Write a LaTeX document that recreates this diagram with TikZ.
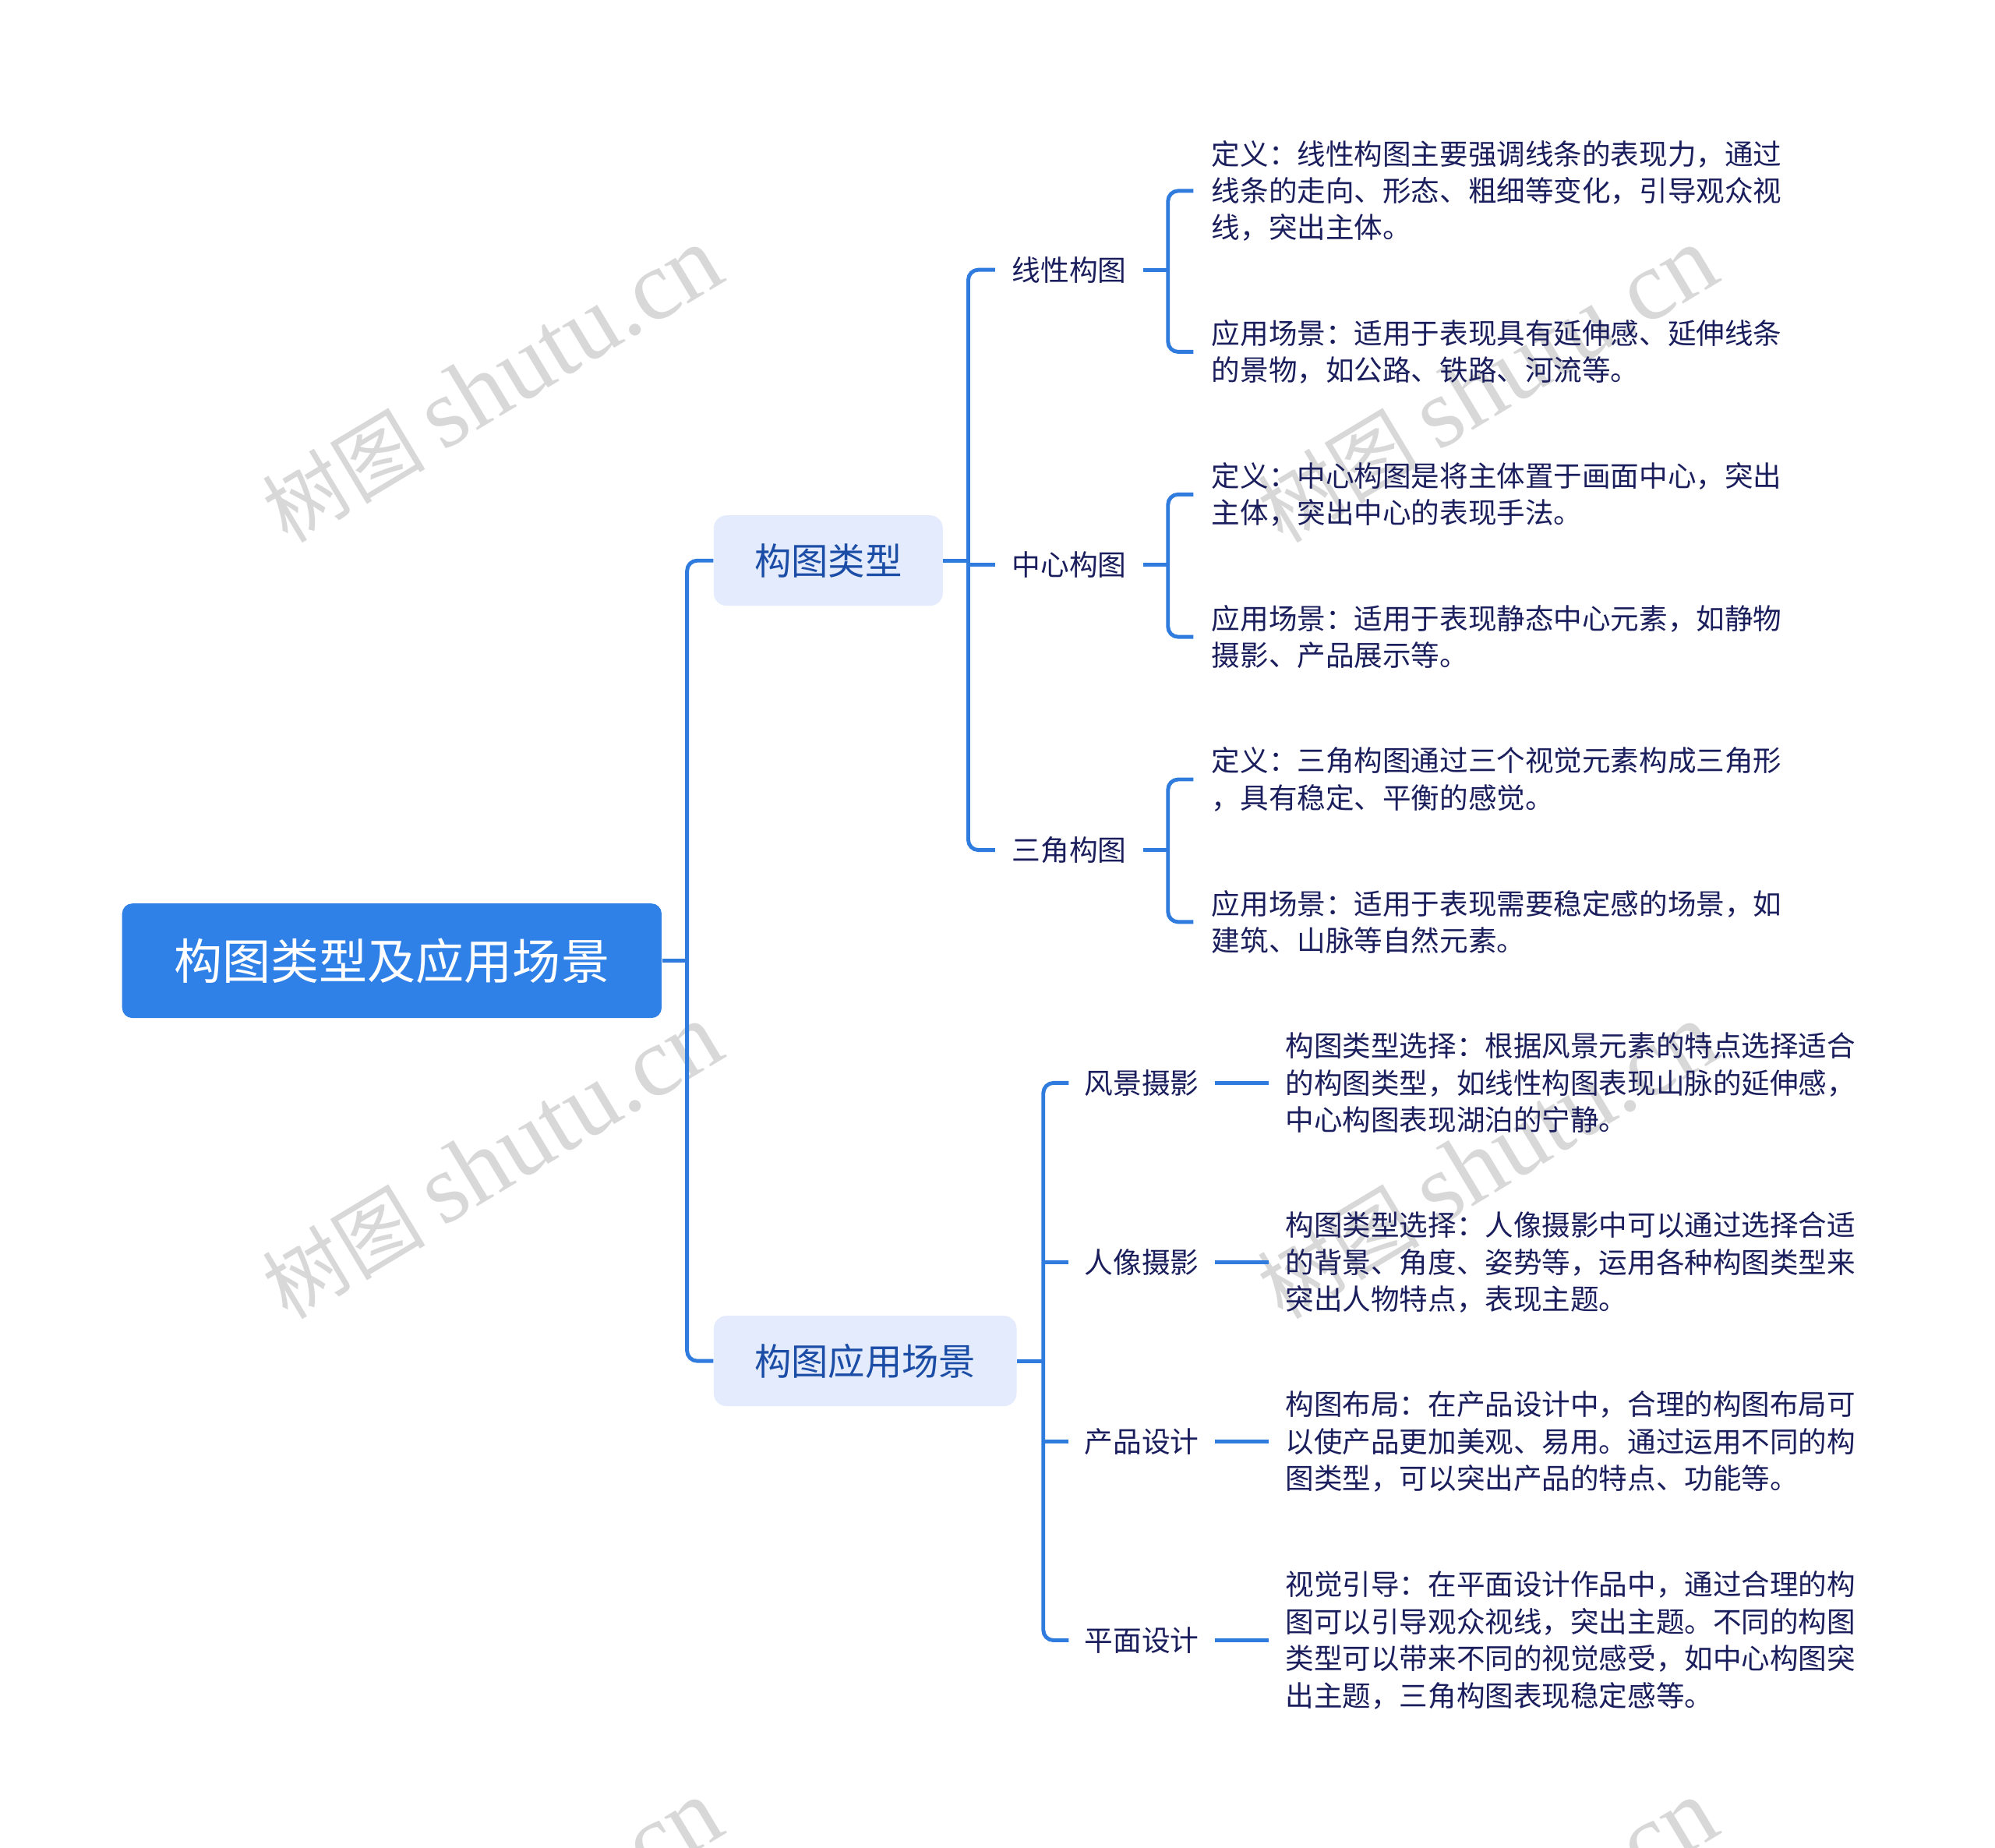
\documentclass[tikz,border=0pt]{standalone}
\usepackage{fontspec}
\setmainfont{Noto Sans CJK SC}
\newfontfamily\cjkfont{Noto Sans CJK SC}
\newfontfamily\wmlatin{Liberation Serif}
\definecolor{lineblue}{HTML}{2F7BDE}
\definecolor{rootblue}{HTML}{2F80E7}
\definecolor{lightbox}{HTML}{E3EBFC}
\definecolor{cattext}{HTML}{1B4DA6}
\definecolor{leaftext}{HTML}{1B1E5C}
\definecolor{wmgray}{HTML}{D8D8D8}
\tikzset{
  conn/.style={draw=lineblue, line width=1.5pt, rounded corners=4pt},
  rootbox/.style={fill=rootblue, text=white, rounded corners=4pt, minimum width=212pt, minimum height=45pt, inner sep=0pt, font=\fontsize{19}{22}\selectfont},
  catbox/.style={fill=lightbox, text=cattext, rounded corners=5pt, minimum height=35.5pt, inner sep=0pt, font=\fontsize{14.5}{17}\selectfont},
  sublabel/.style={text=leaftext, font=\fontsize{11.25}{14}\selectfont, inner ysep=2pt, anchor=west},
  leaf/.style={text=leaftext, font=\fontsize{11.2}{14.5}\selectfont, align=left, inner ysep=2pt, anchor=west},
  wm/.style={text=wmgray, rotate=31, anchor=base west, inner sep=0pt}
}
\begin{document}
\begin{tikzpicture}[x=0.5pt, y=-0.5pt]
\useasboundingbox (0,0) rectangle (1568,1452);
\fill[white] (0,0) rectangle (1568,1452);
% watermarks
\begin{scope}
\clip (0,0) rectangle (1568,1452);
\foreach \wx/\wy [count=\i] in {226/428, 1008/428, 226/1038, 1008/1038, 226/1648, 1008/1648}{
  \node[wm] (wm\i) at (\wx,\wy) {{\cjkfont\fontsize{32}{38}\selectfont 树图}\hspace{7pt}{\wmlatin\fontsize{39}{46}\selectfont shutu.cn}};
}
\end{scope}
% coordinates of the vertical trunks
\coordinate (t0) at (540,0);
\coordinate (t1) at (761,0);
\coordinate (t2) at (820,0);
\coordinate (b1) at (918,0);
% nodes
\node[rootbox] (root) at (308,755) {构图类型及应用场景};
\node[catbox, minimum width=90pt] (c1) at (651,440.5) {构图类型};
\node[catbox, minimum width=119pt] (c2) at (680,1069.5) {构图应用场景};

\node[sublabel, inner xsep=6.5pt] (s1) at (782,212) {线性构图};
\node[sublabel, inner xsep=6.5pt] (s2) at (782,444) {中心构图};
\node[sublabel, inner xsep=6.5pt] (s3) at (782,668) {三角构图};

\node[leaf, inner xsep=7pt] (l1a) at (938,150) {定义：线性构图主要强调线条的表现力，通过\\线条的走向、形态、粗细等变化，引导观众视\\线，突出主体。};
\node[leaf, inner xsep=7pt] (l1b) at (938,276.5) {应用场景：适用于表现具有延伸感、延伸线条\\的景物，如公路、铁路、河流等。};
\node[leaf, inner xsep=7pt] (l2a) at (938,388.5) {定义：中心构图是将主体置于画面中心，突出\\主体，突出中心的表现手法。};
\node[leaf, inner xsep=7pt] (l2b) at (938,500.5) {应用场景：适用于表现静态中心元素，如静物\\摄影、产品展示等。};
\node[leaf, inner xsep=7pt] (l3a) at (938,612.5) {定义：三角构图通过三个视觉元素构成三角形\\，具有稳定、平衡的感觉。};
\node[leaf, inner xsep=7pt] (l3b) at (938,724.5) {应用场景：适用于表现需要稳定感的场景，如\\建筑、山脉等自然元素。};

\node[sublabel, inner xsep=6pt] (s4) at (840,851) {风景摄影};
\node[sublabel, inner xsep=6pt] (s5) at (840,992) {人像摄影};
\node[sublabel, inner xsep=6pt] (s6) at (840,1133) {产品设计};
\node[sublabel, inner xsep=6pt] (s7) at (840,1289) {平面设计};

\node[leaf, inner xsep=6.5pt] (l4) at (997,851) {构图类型选择：根据风景元素的特点选择适合\\的构图类型，如线性构图表现山脉的延伸感，\\中心构图表现湖泊的宁静。};
\node[leaf, inner xsep=6.5pt] (l5) at (997,992) {构图类型选择：人像摄影中可以通过选择合适\\的背景、角度、姿势等，运用各种构图类型来\\突出人物特点，表现主题。};
\node[leaf, inner xsep=6.5pt] (l6) at (997,1133) {构图布局：在产品设计中，合理的构图布局可\\以使产品更加美观、易用。通过运用不同的构\\图类型，可以突出产品的特点、功能等。};
\node[leaf, inner xsep=6.5pt] (l7) at (997,1289) {视觉引导：在平面设计作品中，通过合理的构\\图可以引导观众视线，突出主题。不同的构图\\类型可以带来不同的视觉感受，如中心构图突\\出主题，三角构图表现稳定感等。};

% connectors: root level
\draw[conn] (root.east) -- (root.east -| t0);
\draw[conn] (c1.west) -- (c1.west -| t0) -- (c2.west -| t0) -- (c2.west);
% group 1
\draw[conn] (c1.east) -- (c1.east -| t1);
\draw[conn] (s1.west) -- (s1.west -| t1) -- (s3.west -| t1) -- (s3.west);
\draw[conn] (s2.west) -- (s2.west -| t1);
\draw[conn] (s1.east) -- (s1.east -| b1);
\draw[conn] (s2.east) -- (s2.east -| b1);
\draw[conn] (s3.east) -- (s3.east -| b1);
\draw[conn] (l1a.west) -- (l1a.west -| b1) -- (l1b.west -| b1) -- (l1b.west);
\draw[conn] (l2a.west) -- (l2a.west -| b1) -- (l2b.west -| b1) -- (l2b.west);
\draw[conn] (l3a.west) -- (l3a.west -| b1) -- (l3b.west -| b1) -- (l3b.west);
% group 2
\draw[conn] (c2.east) -- (c2.east -| t2);
\draw[conn] (s4.west) -- (s4.west -| t2) -- (s7.west -| t2) -- (s7.west);
\draw[conn] (s5.west) -- (s5.west -| t2);
\draw[conn] (s6.west) -- (s6.west -| t2);
\draw[conn] (s4.east) -- (l4.west);
\draw[conn] (s5.east) -- (l5.west);
\draw[conn] (s6.east) -- (l6.west);
\draw[conn] (s7.east) -- (l7.west);
\end{tikzpicture}
\end{document}
